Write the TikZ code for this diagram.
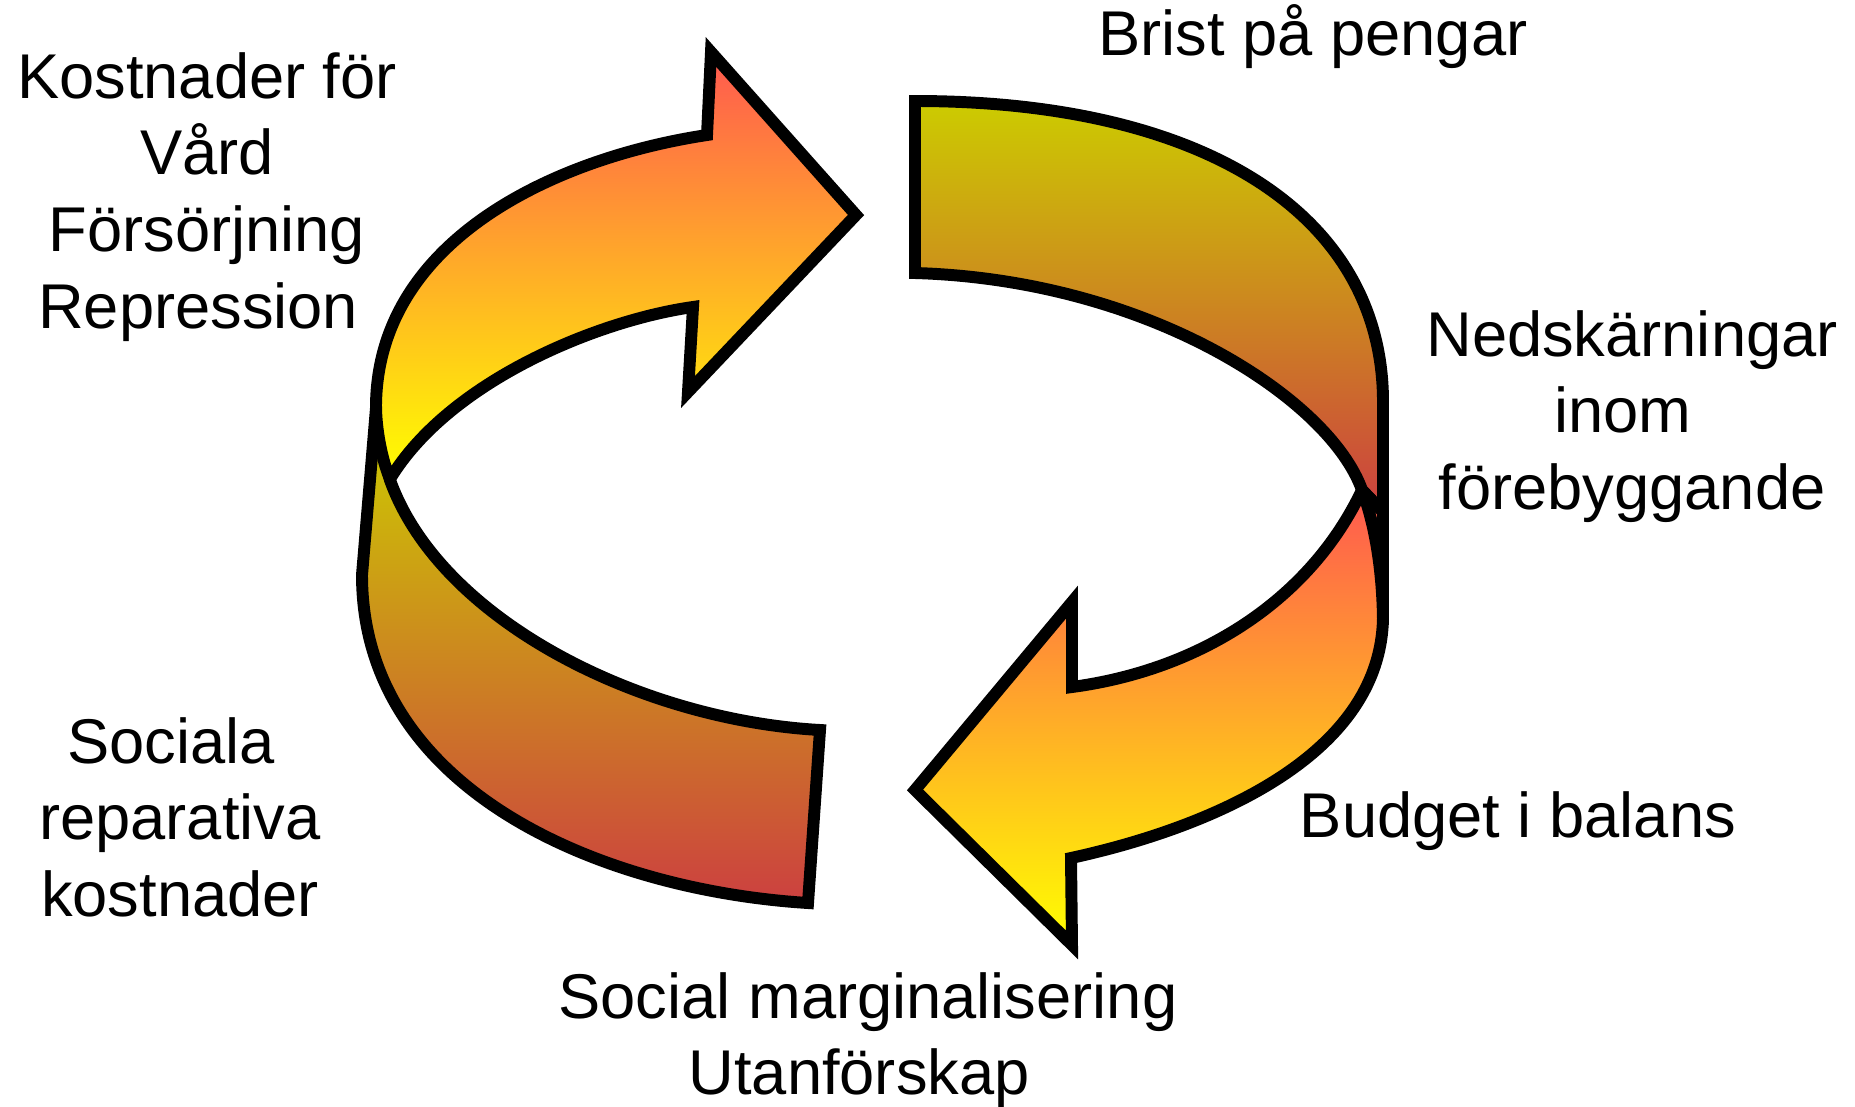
\documentclass[tikz,border=0pt]{standalone}
\usepackage{fontspec}
\setmainfont{Liberation Sans}
\definecolor{redtop}{RGB}{255,88,80}
\definecolor{yel}{RGB}{255,255,0}
\definecolor{olv}{RGB}{204,204,0}
\definecolor{brn}{RGB}{204,64,64}
\tikzset{
  band/.style={draw=black, line width=6.8pt, line join=miter, miter limit=10},
  warmband/.style={band, top color=redtop, bottom color=yel},
  darkband/.style={band, top color=olv, bottom color=brn},
  lbl/.style={font=\fontsize{36}{43.7}\selectfont, align=center, inner sep=0pt, text=black}
}
\begin{document}
\begin{tikzpicture}[x=0.02cm, y=-0.02cm]
\useasboundingbox (0,0) rectangle (1855,1106);
% top-right band
\path[darkband] (915,101) .. controls (1205,101) and (1383,215) .. (1383,402)
  -- (1383,512) -- (1362,490) .. controls (1330,400) and (1150,280) .. (915,273) -- cycle;
% bottom-right arrow
\path[warmband] (1362,490) -- (1383,512) -- (1383,615)
  .. controls (1383,760) and (1200,830) .. (1071,858)
  -- (1072,945) -- (915,790) -- (1072,602) -- (1072,687)
  .. controls (1200,670) and (1310,600) .. (1362,490) -- cycle;
\draw[line width=6.8pt] (1362,490) .. controls (1377,530) and (1383,580) .. (1383,625);
% bottom-left band
\path[darkband] (375,420) -- (362,575) .. controls (362,790) and (600,890) .. (808,903)
  -- (820,730) .. controls (640,720) and (440,620) .. (390,480) -- cycle;
% top-left arrow
\path[warmband] (390,479) .. controls (382,460) and (376,430) .. (376,405)
  .. controls (378,240) and (555,158) .. (707,135)
  -- (711,52) -- (856,215) -- (688,392) -- (693,307)
  .. controls (600,320) and (450,380) .. (390,479) -- cycle;
% labels
\node[lbl, anchor=north] (kost) at (207,52) {Kostnader för\\Vård\\Försörjning\\Repression\rule{.28em}{0pt}};
\node[lbl, anchor=base] (brist) at (1313,55) {Brist på pengar};
\node[lbl, anchor=north] (ned) at (1632,310) {Nedskärningar\\inom\rule{.28em}{0pt}\\förebyggande};
\node[lbl, anchor=base] (budget) at (1518,837) {Budget i balans};
\node[lbl, anchor=north] (marg) at (868,972) {Social marginalisering\\Utanförskap\rule{.28em}{0pt}};
\node[lbl, anchor=north] (socrep) at (180,717) {Sociala\rule{.28em}{0pt}\\reparativa\\kostnader};
\end{tikzpicture}
\end{document}
